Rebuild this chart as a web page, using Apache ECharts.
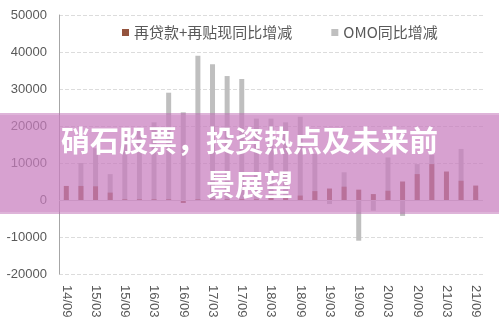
<!DOCTYPE html>
<html><head><meta charset="utf-8">
<script src="https://cdn.jsdelivr.net/npm/echarts@6/dist/echarts.min.js"></script>
<style>html,body{margin:0;padding:0;background:#fff}#c{width:499px;height:329px}</style>
</head><body><div id="c"></div>
<script>
const categories = ['14/09','14/12','15/03','15/06','15/09','15/12','16/03','16/06','16/09','16/12','17/03','17/06','17/09','17/12','18/03','18/06','18/09','18/12','19/03','19/06','19/09','19/12','20/03','20/06','20/09','20/12','21/03','21/06','21/09'];
const relending = [3800,3800,3700,2000,200,200,200,200,-800,200,200,200,200,200,1000,1000,1200,2400,3100,3600,2800,1600,2500,5000,7000,9700,7700,5200,3900];
const omo = [500,10000,14000,7000,17000,19000,21000,29000,23700,39000,36700,33500,32700,22000,22000,21000,22500,12500,-1100,7500,-11000,-2900,11500,-4300,9700,12200,6000,13800,2000];
const yTicks = {min:-20000, max:50000, interval:10000};
const seriesNames = ['再贷款+再贴现同比增减','OMO同比增减'];
const titleLines = ['硝石股票，投资热点及未来前','景展望'];

const chart = echarts.init(document.getElementById('c'), null, {renderer:'canvas'});
chart.setOption({
  animation:false,
  backgroundColor:'#fff',
  grid:{left:59,right:16,top:15,bottom:55},
  legend:{
    top:20, left:117, itemWidth:7, itemHeight:7, itemGap:39,
    icon:'rect',
    textStyle:{color:'#595959',fontSize:15,fontFamily:'Noto Sans CJK SC'},
    data:seriesNames
  },
  xAxis:{
    type:'category', data:categories,
    axisLine:{show:false}, axisTick:{show:false},
    axisLabel:{interval:1, rotate:-90, color:'#595959', fontSize:13, margin:11, fontFamily:'Liberation Sans'}
  },
  yAxis:{
    type:'value', min:yTicks.min, max:yTicks.max, interval:yTicks.interval,
    axisLine:{show:true, lineStyle:{color:'#a6a6a6',width:1}},
    axisTick:{show:false},
    axisLabel:{color:'#595959', fontSize:13, margin:12, fontFamily:'Liberation Sans', formatter:function(v){return String(v);}},
    splitLine:{lineStyle:{color:'#dcdcdc', type:'dashed'}}
  },
  series:[
    {name:seriesNames[1], type:'bar', data:omo, barWidth:5, barGap:'-100%',
     itemStyle:{color:'#bfbfbf'},
     markLine:{silent:true, symbol:'none', label:{show:false},
       lineStyle:{color:'#d0d0d0', type:'solid', width:1}, data:[{yAxis:0}]}},
    {name:seriesNames[0], type:'bar', data:relending, barWidth:5, barGap:'-100%',
     itemStyle:{color:'#94533d'}}
  ],
  graphic:[
    {type:'rect', left:0, top:115, shape:{width:499, height:97},
     style:{fill:'rgba(200,125,190,0.72)'}, z:100},
    {type:'rect', left:0, top:113, shape:{width:499, height:2},
     style:{fill:'rgba(190,105,180,0.5)'}, z:100},
    {type:'rect', left:0, top:212, shape:{width:499, height:2},
     style:{fill:'rgba(190,105,180,0.5)'}, z:100},
    {type:'text', left:'center', top:126, z:101,
     style:{text:titleLines[0], fill:'#fff', font:'bold 29px "Noto Sans CJK SC"'}},
    {type:'text', left:'center', top:170, z:101,
     style:{text:titleLines[1], fill:'#fff', font:'bold 29px "Noto Sans CJK SC"'}}
  ]
});
</script></body></html>
